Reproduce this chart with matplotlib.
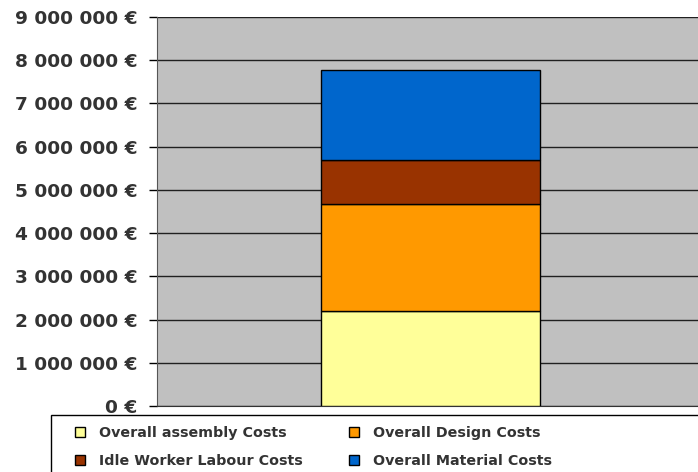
import matplotlib.pyplot as plt
from matplotlib.patches import Rectangle

categories = ["Overall assembly Costs", "Overall Design Costs",
              "Idle Worker Labour Costs", "Overall Material Costs"]
values = [2200000, 2480000, 1000000, 2100000]
colors = ["#FFFF99", "#FF9900", "#993300", "#0066CC"]
tick_values = [0, 1000000, 2000000, 3000000, 4000000, 5000000,
               6000000, 7000000, 8000000, 9000000]
tick_labels = ["0 €", "1 000 000 €", "2 000 000 €", "3 000 000 €", "4 000 000 €",
               "5 000 000 €", "6 000 000 €", "7 000 000 €", "8 000 000 €", "9 000 000 €"]

fig = plt.figure(figsize=(6.98, 4.72), dpi=100)
ax = fig.add_axes([157 / 698, 1 - 406 / 472, 547 / 698, (406 - 17) / 472])
ax.set_facecolor("#C0C0C0")

bottom = 0
handles = []
for name, val, col in zip(categories, values, colors):
    b = ax.bar(0, val, width=0.4, bottom=bottom, color=col,
               edgecolor="black", linewidth=1, label=name, zorder=3)
    handles.append(b)
    bottom += val

ax.set_xlim(-0.5, 0.5)
ax.set_ylim(0, 9000000)
ax.set_yticks(tick_values)
ax.set_yticklabels(tick_labels)
ax.set_xticks([])
ax.yaxis.grid(True, color="#202020", linewidth=1, zorder=0)
ax.set_axisbelow(True)
ax.tick_params(axis="y", direction="out", length=6, width=1, pad=8,
               labelsize=13.3, labelcolor="#333333")
for lbl in ax.get_yticklabels():
    lbl.set_fontweight("bold")
for s in ["top", "right"]:
    ax.spines[s].set_visible(False)
ax.spines["left"].set_color("#555555")
ax.spines["bottom"].set_color("#333333")

# legend box drawn by hand so it runs off the right edge like the original
fig.patches.append(Rectangle((51 / 698, -0.05), 0.98, 1 - 415 / 472 + 0.05,
                             transform=fig.transFigure, facecolor="white",
                             edgecolor="black", linewidth=1))

# matplotlib fills columns first, so reorder for row-wise layout
order = [0, 2, 1, 3]
leg = fig.legend([handles[i] for i in order], [categories[i] for i in order],
                 loc="upper left", bbox_to_anchor=(72 / 698, 1 - 423 / 472),
                 ncol=2, frameon=False, borderaxespad=0,
                 handlelength=0.7, handleheight=0.7, handletextpad=1.0,
                 columnspacing=3.2, labelspacing=1.0, borderpad=0.2,
                 prop={"size": 10.3, "weight": "bold"})
for t in leg.get_texts():
    t.set_color("#333333")

fig.savefig("out.png", dpi=100)
